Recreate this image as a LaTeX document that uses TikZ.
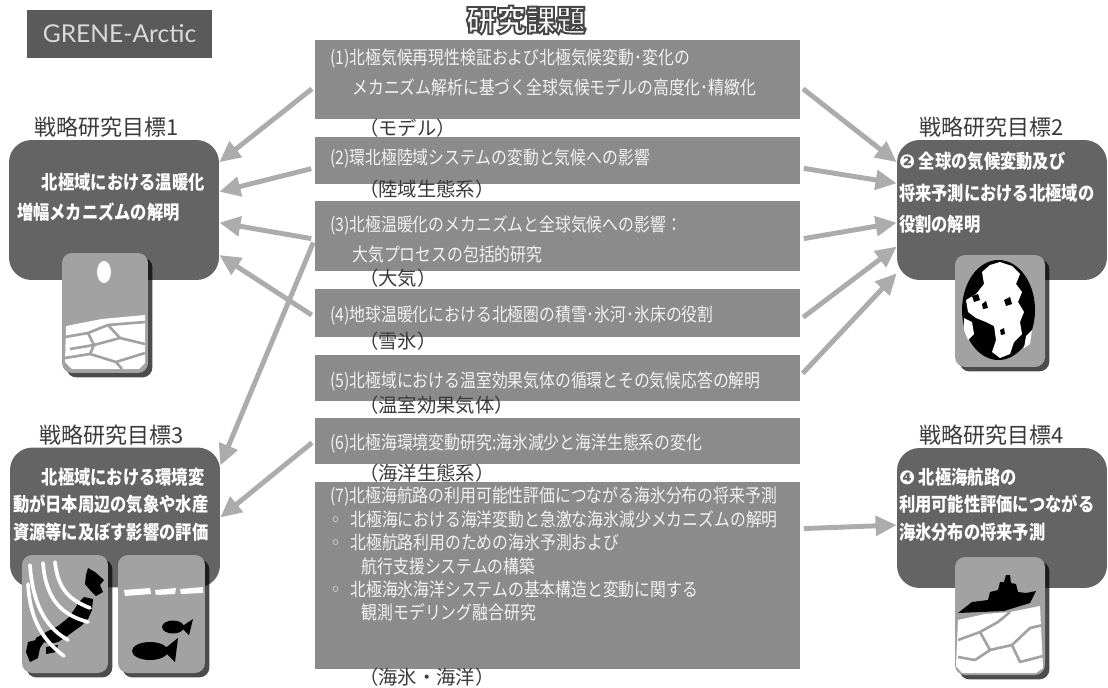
\documentclass[tikz,border=0pt]{standalone}
\usepackage{fontspec}
\usetikzlibrary{positioning,calc,arrows.meta,shadows}

\newfontfamily\jpfont[FakeStretch=0.85]{Noto Sans CJK JP}
\newfontfamily\jpwide{Noto Sans CJK JP}
\newfontfamily\dingfont{DejaVu Sans}
\newfontfamily\logofont{Lato}

\definecolor{logogray}{HTML}{5A5A5A}
\definecolor{topicgray}{HTML}{8B8B8B}
\definecolor{goalgray}{HTML}{646464}
\definecolor{arrowgray}{HTML}{ACACAC}
\definecolor{icongray}{HTML}{A2A2A2}
\definecolor{inkgray}{HTML}{3A3A3A}

\newcommand\obul{{\dingfont ◦}\hspace{0.5em}}
% outlined lettering: fill white, stroke dark
\newcommand\outlined[1]{\special{pdf:literal direct 0.28 G 1.1 w 2 Tr}#1\special{pdf:literal direct 0 Tr}}

\begin{document}
\begin{tikzpicture}[
		x=0.02cm,y=-0.02cm,
		topic/.style={fill=topicgray,minimum width=9.7cm,inner sep=0pt},
		topictext/.style={text=white!95!black,font=\jpfont\fontsize{10.6}{#1}\selectfont,align=left,inner sep=0pt,anchor=north west},
		topictext/.default=17,
		tag/.style={text=inkgray,font=\jpwide\fontsize{11}{12}\selectfont,inner sep=0pt,anchor=west},
		goal/.style={fill=goalgray,rounded corners=0.45cm,minimum width=4.2cm,minimum height=2.8cm,inner sep=0pt},
		goaltext/.style={text=white,font=\jpfont\bfseries\fontsize{10.9}{#1}\selectfont,align=left,inner sep=0pt,anchor=north west},
		goaltext/.default=17,
		goallabel/.style={text=inkgray,font=\jpwide\fontsize{12.5}{14}\selectfont,inner sep=0pt},
		icon/.style={fill=icongray,rounded corners=0.2cm,inner sep=0pt,drop shadow={shadow xshift=2.5pt,shadow yshift=-2.5pt,fill=black,opacity=.7}},
		flow/.style={draw=arrowgray,line width=2.8pt,shorten <=2pt,-{Triangle[length=12pt,width=11pt]}},
		ice/.style={draw=icongray,line width=1.5pt,line join=round},
		wind/.style={draw=white,line width=2.1pt,line cap=round}
		]
		\useasboundingbox (0,0) rectangle (1108,687);

		\node[fill=logogray,minimum width=3.7cm,minimum height=0.96cm,text=black!15,font=\logofont\fontsize{14}{16}\selectfont] (logo) at (119.5,34) {GRENE-Arctic};
		\node[text=white,font=\jpwide\bfseries\fontsize{17}{19}\selectfont] (head) at (526,20) {\outlined{研究課題}};

		\node[topic,minimum height=1.58cm] (t1) at (557.5,79.5) {};
		\node[topic,minimum height=0.94cm,below=0.34cm of t1] (t2) {};
		\node[topic,minimum height=1.4cm,below=0.34cm of t2] (t3) {};
		\node[topic,minimum height=0.96cm,below=0.34cm of t3] (t4) {};
		\node[topic,minimum height=0.92cm,below=0.34cm of t4] (t5) {};
		\node[topic,minimum height=0.92cm,below=0.34cm of t5] (t6) {};
		\node[topic,minimum height=3.74cm,below=0.34cm of t6] (t7) {};

		\node[topictext] (t1x) at ([shift={(15,9)}]t1.north west) {(1)北極気候再現性検証および北極気候変動･変化の\\\hspace*{1.2em}メカニズム解析に基づく全球気候モデルの高度化･精緻化};
		\node[topictext] (t2x) at ([shift={(15,12)}]t2.north west) {(2)環北極陸域システムの変動と気候への影響};
		\node[topictext] (t3x) at ([shift={(15,14)}]t3.north west) {(3)北極温暖化のメカニズムと全球気候への影響：\\\hspace*{1.2em}大気プロセスの包括的研究};
		\node[topictext] (t4x) at ([shift={(15,17)}]t4.north west) {(4)地球温暖化における北極圏の積雪･氷河･氷床の役割};
		\node[topictext] (t5x) at ([shift={(15,17)}]t5.north west) {(5)北極域における温室効果気体の循環とその気候応答の解明};
		\node[topictext] (t6x) at ([shift={(15,15)}]t6.north west) {(6)北極海環境変動研究:海氷減少と海洋生態系の変化};
		\node[topictext=13.3] (t7x) at ([shift={(15,5)}]t7.north west) {(7)北極海航路の利用可能性評価につながる海氷分布の将来予測\\
			\obul 北極海における海洋変動と急激な海氷減少メカニズムの解明\\
			\obul 北極航路利用のための海氷予測および\\
			\hspace*{1.7em}航行支援システムの構築\\
			\obul 北極海氷海洋システムの基本構造と変動に関する\\
			\hspace*{1.7em}観測モデリング融合研究};

		\node[tag] (m1) at ([shift={(44,9)}]t1.south west) {（モデル）};
		\node[tag] (m2) at ([shift={(44,5)}]t2.south west) {（陸域生態系）};
		\node[tag] (m3) at ([shift={(44,6)}]t3.south west) {（大気）};
		\node[tag] (m4) at ([shift={(44,4)}]t4.south west) {（雪氷）};
		\node[tag] (m5) at ([shift={(44,4)}]t5.south west) {（温室効果気体）};
		\node[tag] (m6) at ([shift={(44,8)}]t6.south west) {（海洋生態系）};
		\node[tag] (m7) at ([shift={(44,8)}]t7.south west) {（海氷・海洋）};

		\node[goal] (g1) at (114,210) {};
		\node[goal] (g3) at (115,517.5) {};
		\node[goal] (g2) at (1002,210) {};
		\node[goal] (g4) at (1002,518) {};

		\node[goallabel,above=1pt of g1,xshift=-4pt] (l1) {戦略研究目標1};
		\node[goallabel,above=1pt of g3,xshift=-2pt] (l3) {戦略研究目標3};
		\node[goallabel,above=1pt of g2,xshift=-6pt] (l2) {戦略研究目標2};
		\node[goallabel,above=1pt of g4,xshift=-6pt] (l4) {戦略研究目標4};

		\node[goaltext] (g1x) at ([shift={(8,33)}]g1.north west) {\hspace*{1.3em}北極域における温暖化\\増幅メカニズムの解明};
		\node[goaltext=15.6] (g3x) at ([shift={(3,20.5)}]g3.north west) {\hspace*{1.5em}北極域における環境変\\動が日本周辺の気象や水産\\資源等に及ぼす影響の評価};
		\node[goaltext=18] (g2x) at ([shift={(2,12)}]g2.north west) {{\dingfont ❷} 全球の気候変動及び\\将来予測における北極域の\\役割の解明};
		\node[goaltext=15.6] (g4x) at ([shift={(2,20)}]g4.north west) {{\dingfont ❹} 北極海航路の\\利用可能性評価につながる\\海氷分布の将来予測};

		% sun over broken ice
		\node[icon,minimum width=1.72cm,minimum height=2.4cm] (icn1) at (105,313) {};
		\fill[white] (104,272) ellipse [x radius=0.14cm,y radius=0.22cm];
		\fill[white] (66,326) -- (102,319) -- (145,315) -- (145,363) -- (139,369) -- (72,369) -- (65,362) -- cycle;
		\draw[ice] (65,337) -- (88,333) -- (108,325) -- (145,322);
		\draw[ice] (70,349) -- (94,345) -- (120,338) -- (145,344);
		\draw[ice] (65,358) -- (90,354) -- (116,362) -- (145,353);
		\draw[ice] (88,333) -- (94,345) -- (90,354);
		\draw[ice] (120,338) -- (108,325);
		\draw[ice] (116,362) -- (122,369);

		% Japan and wind
		\node[icon,minimum width=1.72cm,minimum height=2.36cm] (icn3a) at (65,614) {};
		\fill[black] (88,568) -- (95,572) -- (104,580) -- (100,585) -- (103,592) -- (96,596) -- (90,590) -- (85,584) -- (86,575) -- cycle;
		\fill[black] (84,597) -- (93,599) -- (92,610) -- (88,619) -- (81,626) -- (74,631) -- (66,637) -- (58,642) -- (50,644) -- (44,642) -- (40,648) -- (33,647) -- (36,638) -- (48,631) -- (58,626) -- (68,618) -- (74,610) -- (79,602) -- cycle;
		\fill[black] (28,642) -- (36,640) -- (40,648) -- (38,658) -- (30,662) -- (26,652) -- cycle;
		\fill[black] (46,647) -- (58,645) -- (56,652) -- (46,654) -- cycle;
		\draw[wind] (55,562) .. controls (58,590) and (70,600) .. (90,608);
		\draw[wind] (43,563) .. controls (46,600) and (62,615) .. (88,622);
		\draw[wind] (30,565) .. controls (33,610) and (50,630) .. (68,640);
		\draw[wind] (28,584) .. controls (30,622) and (45,642) .. (64,656);

		% fish under the ice
		\node[icon,minimum width=1.74cm,minimum height=2.36cm] (icn3b) at (161.5,614) {};
		\fill[white] (124,590) -- (150,588) -- (151,594) -- (125,596) -- cycle;
		\fill[white] (155,590) -- (176,588) -- (175,594) -- (156,595) -- cycle;
		\fill[white] (180,589) -- (203,587) -- (203,593) -- (181,594) -- cycle;
		\fill[black] (173,627) ellipse [x radius=0.22cm,y radius=0.13cm];
		\fill[black] (181,627) -- (193,619) -- (189,635) -- cycle;
		\fill[black] (150,651) ellipse [x radius=0.36cm,y radius=0.18cm];
		\fill[black] (163,650) -- (178,638) -- (175,662) -- cycle;

		% arctic globe
		\node[icon,minimum width=1.8cm,minimum height=2.24cm] (icn2) at (1000,311) {};
		\fill[black] (998.5,310) ellipse [x radius=0.73cm,y radius=1cm];
		\fill[white] (990,265) -- (1000,262) -- (1012,266) -- (1020,274) -- (1016,284) -- (1022,292) -- (1018,302) -- (1024,312) -- (1020,322) -- (1022,334) -- (1014,342) -- (1010,354) -- (1000,358) -- (992,352) -- (996,340) -- (994,326) -- (986,322) -- (976,318) -- (968,312) -- (966,300) -- (976,294) -- (984,284) -- (982,272) -- cycle;
		\fill[white] (964,318) -- (972,322) -- (974,334) -- (968,340) -- (964,330) -- cycle;
		\fill[black] (972,296) -- (978,294) -- (980,300) -- (974,302) -- cycle;
		\fill[black] (982,304) -- (986,301) -- (988,308) -- (983,309) -- cycle;
		\fill[black] (1004,300) -- (1010,297) -- (1012,304) -- (1006,306) -- cycle;
		\fill[black] (1000,330) -- (1004,328) -- (1005,334) -- (1001,335) -- cycle;
		\fill[white] (1026,336) -- (1032,330) -- (1030,344) -- (1024,348) -- cycle;

		% ice breaker
		\node[icon,minimum width=1.8cm,minimum height=2.36cm] (icn4) at (1000,616) {};
		\fill[white] (958,620) -- (985,614) -- (1010,612) -- (1040,606) -- (1043,668) -- (1036,673) -- (962,673) -- (956,666) -- cycle;
		\draw[ice] (958,640) -- (980,632) -- (998,622) -- (1010,612);
		\draw[ice] (980,632) -- (990,650) -- (1012,645) -- (1030,628) -- (1043,625);
		\draw[ice] (990,650) -- (975,660) -- (958,657);
		\draw[ice] (1012,645) -- (1020,662) -- (1043,656);
		\fill[black] (958,613) -- (972,602) -- (988,600) -- (990,592) -- (998,590) -- (1000,582) -- (1004,582) -- (1006,575) -- (1010,575) -- (1011,583) -- (1016,584) -- (1018,592) -- (1026,593) -- (1036,591) -- (1030,603) -- (1004,611) -- cycle;

		\draw[flow] ($(t1.north west)!.59!(t1.south west)$) -- ($(g1.north east)!.16!(g1.south east)$);
		\draw[flow] ($(t2.north west)!.66!(t2.south west)$) -- ($(g1.north east)!.37!(g1.south east)$);
		\draw[flow] ($(t3.north west)!.54!(t3.south west)$) -- ($(g1.north east)!.59!(g1.south east)$);
		\draw[flow] ($(t4.north west)!.58!(t4.south west)$) -- ($(g1.north east)!.82!(g1.south east)$);
		\draw[flow] ($(t3.north west)!.54!(t3.south west)$) -- ($(g3.north east)!.13!(g3.south east)$);
		\draw[flow] ($(t6.north west)!.48!(t6.south west)$) -- ($(g3.north east)!.5!(g3.south east)$);

		\draw[flow] ($(t1.north east)!.59!(t1.south east)$) -- ($(g2.north west)!.16!(g2.south west)$);
		\draw[flow] ($(t2.north east)!.66!(t2.south east)$) -- ($(g2.north west)!.31!(g2.south west)$);
		\draw[flow] ($(t3.north east)!.54!(t3.south east)$) -- ($(g2.north west)!.59!(g2.south west)$);
		\draw[flow] ($(t4.north east)!.63!(t4.south east)$) -- ($(g2.north west)!.76!(g2.south west)$);
		\draw[flow] ($(t5.north east)!.46!(t5.south east)$) -- ($(g2.north west)!.95!(g2.south west)$);
		\draw[flow] ($(t7.north east)!.25!(t7.south east)$) -- ($(g4.north west)!.55!(g4.south west)$);
	\end{tikzpicture}
\end{document}
